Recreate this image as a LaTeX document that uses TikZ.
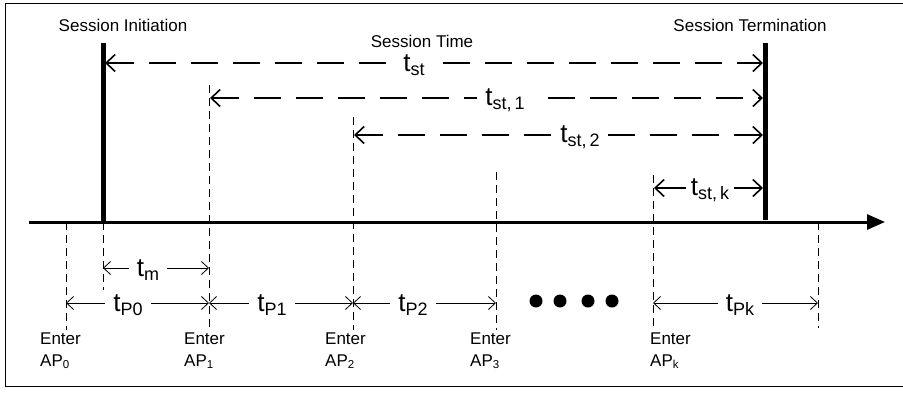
\documentclass[tikz,border=0pt]{standalone}
\usepackage{fontspec}
\setmainfont{Liberation Sans}
\usetikzlibrary{arrows.meta}
\newcommand{\tlab}[1]{{\fontsize{26}{28}\selectfont t\raisebox{-4.5pt}{\fontsize{18}{18}\selectfont #1}}}
\newcommand{\apsub}[1]{AP\raisebox{-2.5pt}{\fontsize{11.5}{11.5}\selectfont #1}}
\tikzset{
  lbl/.style={inner sep=0pt, font=\fontsize{17}{20}\selectfont},
  tl/.style={fill=white, inner xsep=8pt, inner ysep=3pt},
  bigdash/.style={line width=1.7pt, dash pattern=on 27pt off 15pt, {Straight Barb[length=9pt,width=17pt,line width=1.6pt]}-{Straight Barb[length=9pt,width=17pt,line width=1.6pt]}},
  thinarrow/.style={line width=0.8pt, {Straight Barb[length=7pt,width=13pt,line width=0.8pt]}-{Straight Barb[length=7pt,width=13pt,line width=0.8pt]}},
  vdash/.style={line width=0.8pt, dash pattern=on 8pt off 5pt},
  bar/.style={line width=5pt},
  dotc/.style={circle, fill=black, minimum size=13pt, inner sep=0pt}
}
\begin{document}
\begin{tikzpicture}[x=1pt,y=-1pt]
\useasboundingbox (0,0) rectangle (903,392);
% frame
\draw[line width=1pt] (903,3) -- (5,3) -- (5,386) -- (903,386);
% coordinates
\coordinate (ax0) at (29,222);
\coordinate (ax1) at (885,222);
\coordinate (si0) at (103,43);
\coordinate (si1) at (103,222);
\coordinate (si2) at (103,290);
\coordinate (st0) at (765,43);
\coordinate (st1) at (765,220);
% axis
\draw[line width=3pt, -{Triangle[length=18pt,width=15pt]}] (ax0) -- (ax1);
% bars
\draw[bar] (si0) -- (si1);
\draw[bar] (st0) -- (st1);
\draw[vdash] (si1) -- (si2);
% titles
\node[lbl] (tinit) at (123,25) {Session Initiation};
\node[lbl] (tterm) at (750,25) {Session Termination};
\node[lbl] (ttime) at (422,41) {Session Time};
% vertical dashed lines
\coordinate (v0a) at (66,222);  \coordinate (v0b) at (66,330);
\coordinate (v1a) at (209,85);  \coordinate (v1b) at (209,330);
\coordinate (v2a) at (353,117); \coordinate (v2b) at (353,330);
\coordinate (v3a) at (496,172); \coordinate (v3b) at (496,330);
\coordinate (vka) at (653,175); \coordinate (vkb) at (653,330);
\coordinate (vea) at (818,222); \coordinate (veb) at (818,328);
\draw[vdash] (v0a) -- (v0b);
\draw[vdash] (v1a) -- (v1b);
\draw[vdash] (v2a) -- (v2b);
\draw[vdash] (v3a) -- (v3b);
\draw[vdash] (vka) -- (vkb);
\draw[vdash] (vea) -- (veb);
% session time arrows
\coordinate (a0l) at (105,63);  \coordinate (a0r) at (763,63);
\coordinate (a1l) at (210,98);  \coordinate (a1r) at (763,98);
\coordinate (a2l) at (354,135); \coordinate (a2r) at (763,135);
\coordinate (akl) at (654,188); \coordinate (akr) at (763,188);
\draw[bigdash] (a0l) -- (a0r);
\draw[bigdash] (a1l) -- (a1r);
\draw[bigdash] (a2l) -- (a2r);
\draw[line width=1.7pt, {Straight Barb[length=9pt,width=17pt,line width=1.6pt]}-{Straight Barb[length=9pt,width=17pt,line width=1.6pt]}] (akl) -- (akr);
\node[tl] (lst) at (414,65) {\tlab{st}};
\node[tl] (lst1) at (505,100) {\tlab{st,\,1}};
\node[tl] (lst2) at (580,137) {\tlab{st,\,2}};
\node[tl, inner xsep=5pt] (lstk) at (710,190) {\tlab{st,\,k}};
% t_m
\coordinate (tml) at (103,268); \coordinate (tmr) at (209,268);
\draw[thinarrow] (tml) -- (tmr);
\node[tl] (ltm) at (148,270) {\tlab{m}};
% t_P arrows
\coordinate (p0) at (66,303);
\coordinate (p1) at (209,303);
\coordinate (p2) at (353,303);
\coordinate (p3) at (496,303);
\coordinate (pk) at (653,303);
\coordinate (pe) at (818,303);
\draw[thinarrow] (p0) -- (p1);
\draw[thinarrow] (p1) -- (p2);
\draw[thinarrow] (p2) -- (p3);
\draw[thinarrow] (pk) -- (pe);
\node[tl] (lp0) at (128,305) {\tlab{P0}};
\node[tl] (lp1) at (272,305) {\tlab{P1}};
\node[tl] (lp2) at (413,305) {\tlab{P2}};
\node[tl] (lpk) at (740,305) {\tlab{Pk}};
% dots
\node[dotc] (d1) at (536,301) {};
\node[dotc] (d2) at (560,301) {};
\node[dotc] (d3) at (588,301) {};
\node[dotc] (d4) at (612,301) {};
% Enter labels
\node[lbl, anchor=base west] (e0) at (40,344) {Enter};
\node[lbl, anchor=base west] (ap0) at (40,366) {\apsub{0}};
\node[lbl, anchor=base west] (e1) at (184,344) {Enter};
\node[lbl, anchor=base west] (ap1) at (184,366) {\apsub{1}};
\node[lbl, anchor=base west] (e2) at (325,344) {Enter};
\node[lbl, anchor=base west] (ap2) at (325,366) {\apsub{2}};
\node[lbl, anchor=base west] (e3) at (470,344) {Enter};
\node[lbl, anchor=base west] (ap3) at (470,366) {\apsub{3}};
\node[lbl, anchor=base west] (ek) at (650,344) {Enter};
\node[lbl, anchor=base west] (apk) at (650,366) {\apsub{k}};
\end{tikzpicture}
\end{document}
